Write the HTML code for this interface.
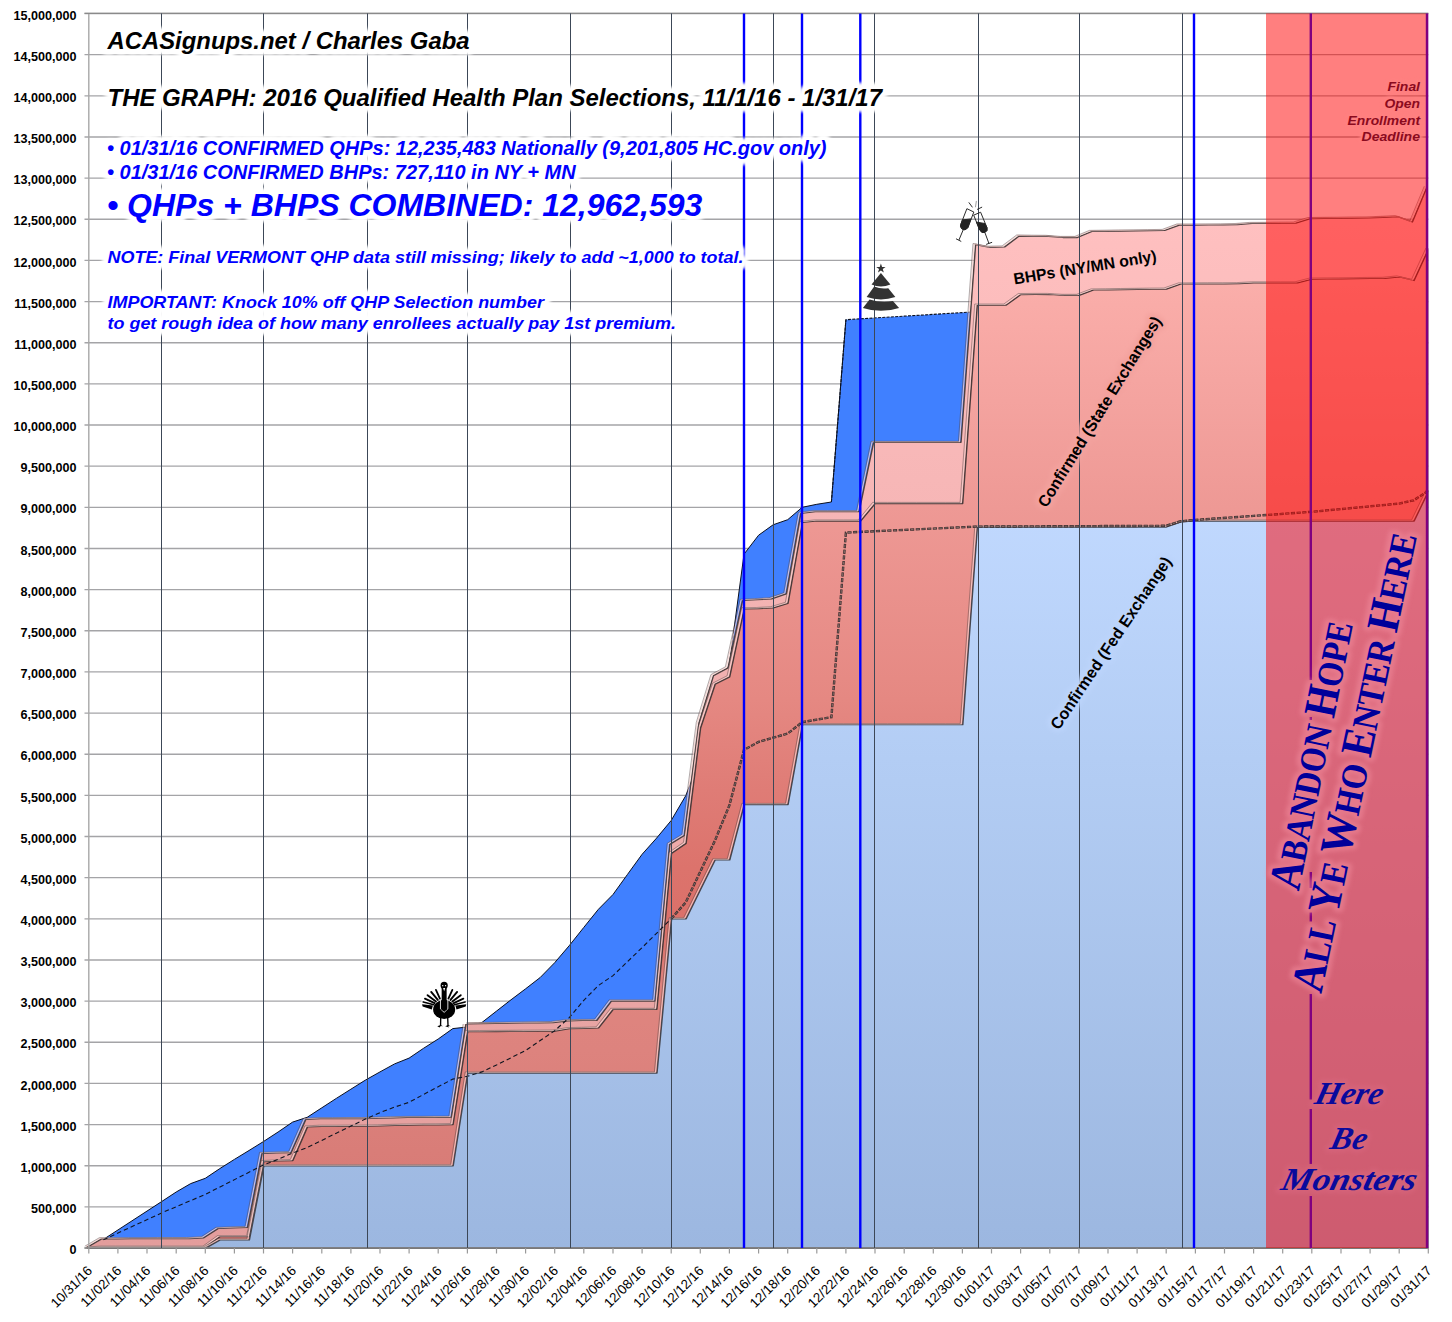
<!DOCTYPE html>
<html lang="en"><head><meta charset="utf-8"><title>THE GRAPH: 2016 Qualified Health Plan Selections</title>
<style>html,body{margin:0;padding:0;background:#fff}svg{display:block}text{font-family:"Liberation Sans",sans-serif}</style></head><body>
<svg width="1452" height="1322" viewBox="0 0 1452 1322">
<defs>
<linearGradient id="gFed" gradientUnits="userSpaceOnUse" x1="0" y1="495" x2="0" y2="1248"><stop offset="0" stop-color="#c1d9ff"/><stop offset="0.35" stop-color="#b3cdf4"/><stop offset="1" stop-color="#9cb7e0"/></linearGradient>
<linearGradient id="gState" gradientUnits="userSpaceOnUse" x1="0" y1="241" x2="0" y2="1248"><stop offset="0.0000" stop-color="#fcb2ae"/><stop offset="0.0854" stop-color="#f8aaa6"/><stop offset="0.2642" stop-color="#ee9995"/><stop offset="0.4558" stop-color="#e58882"/><stop offset="0.5452" stop-color="#df7c76"/><stop offset="0.6226" stop-color="#dc736c"/><stop offset="0.6842" stop-color="#db7069"/><stop offset="0.7438" stop-color="#df857f"/><stop offset="0.8034" stop-color="#dd837e"/><stop offset="0.9047" stop-color="#d97d78"/><stop offset="1.0000" stop-color="#d57772"/></linearGradient>
<linearGradient id="gBhp" gradientUnits="userSpaceOnUse" x1="0" y1="181" x2="0" y2="1248"><stop offset="0" stop-color="#ffc2c2"/><stop offset="0.06" stop-color="#febfbf"/><stop offset="0.28" stop-color="#f7b7b7"/><stop offset="0.88" stop-color="#e6a1a0"/><stop offset="1" stop-color="#e39d9c"/></linearGradient>
<filter id="glowW" x="-5%" y="-40%" width="110%" height="180%"><feGaussianBlur stdDeviation="1.6"/></filter>
<filter id="glowS" x="-10%" y="-60%" width="120%" height="220%"><feGaussianBlur stdDeviation="2.2"/></filter>
<clipPath id="plot"><rect x="80" y="0" width="1348.3" height="1249"/></clipPath>
</defs>
<rect width="1452" height="1322" fill="#fff"/>
<g stroke="#a4a4a7" stroke-width="1.35">
<line x1="84.5" y1="1248.00" x2="1428.3" y2="1248.00"/>
<line x1="84.5" y1="1206.85" x2="1428.3" y2="1206.85"/>
<line x1="84.5" y1="1165.70" x2="1428.3" y2="1165.70"/>
<line x1="84.5" y1="1124.55" x2="1428.3" y2="1124.55"/>
<line x1="84.5" y1="1083.40" x2="1428.3" y2="1083.40"/>
<line x1="84.5" y1="1042.25" x2="1428.3" y2="1042.25"/>
<line x1="84.5" y1="1001.10" x2="1428.3" y2="1001.10"/>
<line x1="84.5" y1="959.95" x2="1428.3" y2="959.95"/>
<line x1="84.5" y1="918.80" x2="1428.3" y2="918.80"/>
<line x1="84.5" y1="877.65" x2="1428.3" y2="877.65"/>
<line x1="84.5" y1="836.50" x2="1428.3" y2="836.50"/>
<line x1="84.5" y1="795.35" x2="1428.3" y2="795.35"/>
<line x1="84.5" y1="754.20" x2="1428.3" y2="754.20"/>
<line x1="84.5" y1="713.05" x2="1428.3" y2="713.05"/>
<line x1="84.5" y1="671.90" x2="1428.3" y2="671.90"/>
<line x1="84.5" y1="630.75" x2="1428.3" y2="630.75"/>
<line x1="84.5" y1="589.60" x2="1428.3" y2="589.60"/>
<line x1="84.5" y1="548.45" x2="1428.3" y2="548.45"/>
<line x1="84.5" y1="507.30" x2="1428.3" y2="507.30"/>
<line x1="84.5" y1="466.15" x2="1428.3" y2="466.15"/>
<line x1="84.5" y1="425.00" x2="1428.3" y2="425.00"/>
<line x1="84.5" y1="383.85" x2="1428.3" y2="383.85"/>
<line x1="84.5" y1="342.70" x2="1428.3" y2="342.70"/>
<line x1="84.5" y1="301.55" x2="1428.3" y2="301.55"/>
<line x1="84.5" y1="260.40" x2="1428.3" y2="260.40"/>
<line x1="84.5" y1="219.25" x2="1428.3" y2="219.25"/>
<line x1="84.5" y1="178.10" x2="1428.3" y2="178.10"/>
<line x1="84.5" y1="136.95" x2="1428.3" y2="136.95"/>
<line x1="84.5" y1="95.80" x2="1428.3" y2="95.80"/>
<line x1="84.5" y1="54.65" x2="1428.3" y2="54.65"/>
<line x1="84.5" y1="13.50" x2="1428.3" y2="13.50"/>
</g>
<g font-size="12.6" font-weight="bold" text-anchor="end" fill="#000">
<text x="76.5" y="1254.1">0</text>
<text x="76.5" y="1212.9">500,000</text>
<text x="76.5" y="1171.8">1,000,000</text>
<text x="76.5" y="1130.6">1,500,000</text>
<text x="76.5" y="1089.5">2,000,000</text>
<text x="76.5" y="1048.3">2,500,000</text>
<text x="76.5" y="1007.2">3,000,000</text>
<text x="76.5" y="966.1">3,500,000</text>
<text x="76.5" y="924.9">4,000,000</text>
<text x="76.5" y="883.8">4,500,000</text>
<text x="76.5" y="842.6">5,000,000</text>
<text x="76.5" y="801.5">5,500,000</text>
<text x="76.5" y="760.3">6,000,000</text>
<text x="76.5" y="719.2">6,500,000</text>
<text x="76.5" y="678.0">7,000,000</text>
<text x="76.5" y="636.9">7,500,000</text>
<text x="76.5" y="595.7">8,000,000</text>
<text x="76.5" y="554.6">8,500,000</text>
<text x="76.5" y="513.4">9,000,000</text>
<text x="76.5" y="472.2">9,500,000</text>
<text x="76.5" y="431.1">10,000,000</text>
<text x="76.5" y="390.0">10,500,000</text>
<text x="76.5" y="348.8">11,000,000</text>
<text x="76.5" y="307.7">11,500,000</text>
<text x="76.5" y="266.5">12,000,000</text>
<text x="76.5" y="225.3">12,500,000</text>
<text x="76.5" y="184.2">13,000,000</text>
<text x="76.5" y="143.1">13,500,000</text>
<text x="76.5" y="101.9">14,000,000</text>
<text x="76.5" y="60.8">14,500,000</text>
<text x="76.5" y="19.6">15,000,000</text>
</g>
<g clip-path="url(#plot)">
<polygon points="88.8,1248.0 103.4,1239.4 161.6,1201.6 176.2,1192.0 190.7,1183.6 205.3,1178.3 219.8,1168.6 234.4,1159.4 249.0,1150.5 263.5,1141.5 278.1,1132.0 292.6,1122.1 307.2,1117.3 321.8,1107.8 336.3,1098.4 350.9,1089.2 365.4,1080.1 380.0,1071.9 394.6,1063.9 409.1,1058.1 423.7,1048.2 438.2,1039.0 452.8,1028.6 467.4,1027.0 481.9,1022.5 496.5,1011.1 511.0,999.8 525.6,988.8 540.2,977.5 554.7,962.7 569.3,945.6 583.8,927.4 598.4,909.3 613.0,894.5 627.5,874.4 642.1,854.3 656.6,838.1 671.2,820.5 685.8,795.6 700.3,758.3 714.9,704.8 729.4,663.7 744.0,554.2 758.6,535.2 773.1,524.8 787.7,519.7 802.2,507.3 816.8,504.3 831.4,502.0 845.9,319.7 977.0,311.7 977.0,1248.0 88.8,1248.0" fill="#4080ff"/>
<polyline points="88.8,1248.0 103.4,1239.4 161.6,1201.6 176.2,1192.0 190.7,1183.6 205.3,1178.3 219.8,1168.6 234.4,1159.4 249.0,1150.5 263.5,1141.5 278.1,1132.0 292.6,1122.1 307.2,1117.3 321.8,1107.8 336.3,1098.4 350.9,1089.2 365.4,1080.1 380.0,1071.9 394.6,1063.9 409.1,1058.1 423.7,1048.2 438.2,1039.0 452.8,1028.6 467.4,1027.0 481.9,1022.5 496.5,1011.1 511.0,999.8 525.6,988.8 540.2,977.5 554.7,962.7 569.3,945.6 583.8,927.4 598.4,909.3 613.0,894.5 627.5,874.4 642.1,854.3 656.6,838.1 671.2,820.5 685.8,795.6 700.3,758.3 714.9,704.8 729.4,663.7 744.0,554.2 758.6,535.2 773.1,524.8 787.7,519.7 802.2,507.3 816.8,504.3 831.4,502.0 845.9,319.7" fill="none" stroke="#0a1020" stroke-width="1.0"/>
<polyline points="831.4,502.0 845.9,319.7 977.0,311.7" fill="none" stroke="#0a1020" stroke-width="1.1" stroke-dasharray="3 1.3"/>
<polygon points="87.4,1247.2 102.0,1238.7 116.5,1238.7 131.1,1238.6 145.6,1238.6 160.2,1238.5 174.8,1238.5 189.3,1238.5 203.9,1237.7 218.4,1228.4 233.0,1227.8 247.6,1227.4 262.1,1153.4 276.7,1152.9 291.2,1152.5 305.8,1119.4 320.4,1118.6 334.9,1118.6 349.5,1118.5 364.0,1118.5 378.6,1118.1 393.2,1117.7 407.7,1117.4 422.3,1117.3 436.8,1117.2 451.4,1117.1 466.0,1023.7 480.5,1023.5 495.1,1023.3 509.6,1023.1 524.2,1022.9 538.8,1022.7 553.3,1022.5 567.9,1020.7 582.4,1020.4 597.0,1020.2 611.6,1000.9 626.1,1000.9 640.7,1000.9 655.2,1000.9 669.8,844.3 684.4,835.4 698.9,723.3 713.5,675.6 728.0,667.8 742.6,600.3 757.2,599.6 771.7,598.7 786.3,593.8 800.8,513.4 815.4,511.6 830.0,511.6 844.5,511.6 859.1,511.6 873.6,442.3 888.2,442.3 902.8,442.3 917.3,442.3 931.9,442.3 946.4,442.3 961.0,442.3 975.6,244.5 990.1,247.2 1004.7,246.9 1019.2,236.0 1033.8,236.2 1048.4,236.3 1062.9,237.4 1077.5,237.4 1092.0,231.4 1106.6,231.2 1121.2,231.0 1135.7,230.8 1150.3,230.6 1164.8,230.4 1179.4,225.0 1194.0,225.0 1208.5,224.9 1223.1,224.8 1237.6,224.5 1252.2,223.4 1266.8,223.3 1281.3,223.1 1295.9,223.0 1310.4,218.5 1325.0,218.3 1339.6,218.2 1354.1,218.0 1368.7,217.9 1383.2,217.3 1397.8,216.6 1412.4,221.9 1426.9,187.2 1426.9,1248.0 87.4,1248.0" fill="url(#gBhp)" stroke="#4f4040" stroke-width="1.45" stroke-linejoin="round"/>
<polygon points="89.1,1248.0 103.7,1247.0 118.2,1247.0 132.8,1247.0 147.3,1247.0 161.9,1247.0 176.5,1247.0 191.0,1247.0 205.6,1247.0 220.1,1236.6 234.7,1236.6 249.3,1236.6 263.8,1161.6 278.4,1160.9 292.9,1160.5 307.5,1126.9 322.1,1126.2 336.6,1126.2 351.2,1126.1 365.7,1126.1 380.3,1125.7 394.9,1125.3 409.4,1125.0 424.0,1124.8 438.5,1124.7 453.1,1124.5 467.7,1031.6 482.2,1031.5 496.8,1031.4 511.3,1031.3 525.9,1031.2 540.5,1031.1 555.0,1031.0 569.6,1028.6 584.1,1028.3 598.7,1027.9 613.3,1009.3 627.8,1009.3 642.4,1009.3 656.9,1009.3 671.5,853.4 686.1,843.4 700.6,727.9 715.2,684.2 729.7,676.8 744.3,608.7 758.9,608.5 773.4,607.7 788.0,603.3 802.5,522.4 817.1,520.9 831.7,520.9 846.2,520.9 860.8,520.9 875.3,503.4 889.9,503.4 904.5,503.4 919.0,503.4 933.6,503.4 948.1,503.4 962.7,503.4 977.3,305.0 991.8,305.0 1006.4,305.0 1020.9,294.5 1035.5,294.4 1050.1,294.4 1064.6,295.3 1079.2,295.3 1093.7,289.9 1108.3,289.7 1122.9,289.5 1137.4,289.3 1152.0,289.1 1166.5,289.0 1181.1,283.9 1195.7,283.8 1210.2,283.7 1224.8,283.7 1239.3,283.6 1253.9,282.8 1268.5,282.8 1283.0,282.8 1297.6,282.8 1312.1,279.1 1326.7,278.9 1341.3,278.8 1355.8,278.6 1370.4,278.4 1384.9,278.3 1399.5,276.9 1414.1,280.4 1428.6,248.9 1428.6,1248.0 89.1,1248.0" fill="url(#gState)" stroke="#4b3a3a" stroke-width="1.45" stroke-linejoin="round"/>
<polygon points="89.2,1248.0 103.8,1248.0 118.3,1248.0 132.9,1248.0 147.4,1248.0 162.0,1248.0 176.6,1248.0 191.1,1248.0 205.7,1248.0 220.2,1239.8 234.8,1239.8 249.4,1239.8 263.9,1165.7 278.5,1165.7 293.0,1165.7 307.6,1165.7 322.2,1165.7 336.7,1165.7 351.3,1165.7 365.8,1165.7 380.4,1165.7 395.0,1165.7 409.5,1165.7 424.1,1165.7 438.6,1165.7 453.2,1165.7 467.8,1072.9 482.3,1072.9 496.9,1072.9 511.4,1072.9 526.0,1072.9 540.6,1072.9 555.1,1072.9 569.7,1072.9 584.2,1072.9 598.8,1072.9 613.4,1072.9 627.9,1072.9 642.5,1072.9 657.0,1072.9 671.6,918.8 686.2,918.8 700.7,889.3 715.3,859.8 729.8,859.8 744.4,804.4 759.0,804.4 773.5,804.4 788.1,804.4 802.6,724.6 817.2,724.6 831.8,724.6 846.3,724.6 860.9,724.6 875.4,724.6 890.0,724.6 904.6,724.6 919.1,724.6 933.7,724.6 948.2,724.6 962.8,724.6 977.4,526.9 991.9,526.9 1006.5,526.9 1021.0,526.9 1035.6,526.9 1050.2,526.9 1064.7,526.9 1079.3,526.9 1093.8,526.9 1108.4,526.9 1123.0,526.9 1137.5,526.9 1152.1,526.9 1166.6,526.9 1181.2,521.9 1195.8,520.9 1210.3,520.9 1224.9,520.9 1239.4,520.9 1254.0,520.9 1268.6,520.9 1283.1,520.9 1297.7,520.9 1312.2,520.9 1326.8,520.9 1341.4,520.9 1355.9,520.9 1370.5,520.9 1385.0,520.9 1399.6,520.9 1414.2,520.9 1428.7,490.8 1428.7,1248.0 89.2,1248.0" fill="url(#gFed)" stroke="#45454d" stroke-width="1.45" stroke-linejoin="round"/>
<polyline points="87.4,1247.2 102.0,1238.7 116.5,1238.7 131.1,1238.6 145.6,1238.6 160.2,1238.5 174.8,1238.5 189.3,1238.5 203.9,1237.7 218.4,1228.4 233.0,1227.8 247.6,1227.4 262.1,1153.4 276.7,1152.9 291.2,1152.5 305.8,1119.4 320.4,1118.6 334.9,1118.6 349.5,1118.5 364.0,1118.5 378.6,1118.1 393.2,1117.7 407.7,1117.4 422.3,1117.3 436.8,1117.2 451.4,1117.1 466.0,1023.7 480.5,1023.5 495.1,1023.3 509.6,1023.1 524.2,1022.9 538.8,1022.7 553.3,1022.5 567.9,1020.7 582.4,1020.4 597.0,1020.2 611.6,1000.9 626.1,1000.9 640.7,1000.9 655.2,1000.9 669.8,844.3 684.4,835.4 698.9,723.3 713.5,675.6 728.0,667.8 742.6,600.3 757.2,599.6 771.7,598.7 786.3,593.8 800.8,513.4 815.4,511.6 830.0,511.6 844.5,511.6 859.1,511.6 873.6,442.3 888.2,442.3 902.8,442.3 917.3,442.3 931.9,442.3 946.4,442.3 961.0,442.3 975.6,244.5 990.1,247.2 1004.7,246.9 1019.2,236.0 1033.8,236.2 1048.4,236.3 1062.9,237.4 1077.5,237.4 1092.0,231.4 1106.6,231.2 1121.2,231.0 1135.7,230.8 1150.3,230.6 1164.8,230.4 1179.4,225.0 1194.0,225.0 1208.5,224.9 1223.1,224.8 1237.6,224.5 1252.2,223.4 1266.8,223.3 1281.3,223.1 1295.9,223.0 1310.4,218.5 1325.0,218.3 1339.6,218.2 1354.1,218.0 1368.7,217.9 1383.2,217.3 1397.8,216.6 1412.4,221.9 1426.9,187.2" fill="none" stroke="#f6cfcc" stroke-opacity="0.8" stroke-width="1.1" transform="translate(-1.5,-0.6)"/>
<polyline points="87.4,1247.2 102.0,1238.7 116.5,1238.7 131.1,1238.6 145.6,1238.6 160.2,1238.5 174.8,1238.5 189.3,1238.5 203.9,1237.7 218.4,1228.4 233.0,1227.8 247.6,1227.4 262.1,1153.4 276.7,1152.9 291.2,1152.5 305.8,1119.4 320.4,1118.6 334.9,1118.6 349.5,1118.5 364.0,1118.5 378.6,1118.1 393.2,1117.7 407.7,1117.4 422.3,1117.3 436.8,1117.2 451.4,1117.1 466.0,1023.7 480.5,1023.5 495.1,1023.3 509.6,1023.1 524.2,1022.9 538.8,1022.7 553.3,1022.5 567.9,1020.7 582.4,1020.4 597.0,1020.2 611.6,1000.9 626.1,1000.9 640.7,1000.9 655.2,1000.9 669.8,844.3 684.4,835.4 698.9,723.3 713.5,675.6 728.0,667.8 742.6,600.3 757.2,599.6 771.7,598.7 786.3,593.8 800.8,513.4 815.4,511.6 830.0,511.6 844.5,511.6 859.1,511.6 873.6,442.3 888.2,442.3 902.8,442.3 917.3,442.3 931.9,442.3 946.4,442.3 961.0,442.3 975.6,244.5 990.1,247.2 1004.7,246.9 1019.2,236.0 1033.8,236.2 1048.4,236.3 1062.9,237.4 1077.5,237.4 1092.0,231.4 1106.6,231.2 1121.2,231.0 1135.7,230.8 1150.3,230.6 1164.8,230.4 1179.4,225.0 1194.0,225.0 1208.5,224.9 1223.1,224.8 1237.6,224.5 1252.2,223.4 1266.8,223.3 1281.3,223.1 1295.9,223.0 1310.4,218.5 1325.0,218.3 1339.6,218.2 1354.1,218.0 1368.7,217.9 1383.2,217.3 1397.8,216.6 1412.4,221.9 1426.9,187.2" fill="none" stroke="#5a4a4a" stroke-opacity="0.6" stroke-width="0.8" transform="translate(-2.6,-1.0)"/>
<polyline points="89.1,1248.0 103.7,1247.0 118.2,1247.0 132.8,1247.0 147.3,1247.0 161.9,1247.0 176.5,1247.0 191.0,1247.0 205.6,1247.0 220.1,1236.6 234.7,1236.6 249.3,1236.6 263.8,1161.6 278.4,1160.9 292.9,1160.5 307.5,1126.9 322.1,1126.2 336.6,1126.2 351.2,1126.1 365.7,1126.1 380.3,1125.7 394.9,1125.3 409.4,1125.0 424.0,1124.8 438.5,1124.7 453.1,1124.5 467.7,1031.6 482.2,1031.5 496.8,1031.4 511.3,1031.3 525.9,1031.2 540.5,1031.1 555.0,1031.0 569.6,1028.6 584.1,1028.3 598.7,1027.9 613.3,1009.3 627.8,1009.3 642.4,1009.3 656.9,1009.3 671.5,853.4 686.1,843.4 700.6,727.9 715.2,684.2 729.7,676.8 744.3,608.7 758.9,608.5 773.4,607.7 788.0,603.3 802.5,522.4 817.1,520.9 831.7,520.9 846.2,520.9 860.8,520.9 875.3,503.4 889.9,503.4 904.5,503.4 919.0,503.4 933.6,503.4 948.1,503.4 962.7,503.4 977.3,305.0 991.8,305.0 1006.4,305.0 1020.9,294.5 1035.5,294.4 1050.1,294.4 1064.6,295.3 1079.2,295.3 1093.7,289.9 1108.3,289.7 1122.9,289.5 1137.4,289.3 1152.0,289.1 1166.5,289.0 1181.1,283.9 1195.7,283.8 1210.2,283.7 1224.8,283.7 1239.3,283.6 1253.9,282.8 1268.5,282.8 1283.0,282.8 1297.6,282.8 1312.1,279.1 1326.7,278.9 1341.3,278.8 1355.8,278.6 1370.4,278.4 1384.9,278.3 1399.5,276.9 1414.1,280.4 1428.6,248.9" fill="none" stroke="#f6cfcc" stroke-opacity="0.8" stroke-width="1.1" transform="translate(-1.5,-0.6)"/>
<polyline points="89.1,1248.0 103.7,1247.0 118.2,1247.0 132.8,1247.0 147.3,1247.0 161.9,1247.0 176.5,1247.0 191.0,1247.0 205.6,1247.0 220.1,1236.6 234.7,1236.6 249.3,1236.6 263.8,1161.6 278.4,1160.9 292.9,1160.5 307.5,1126.9 322.1,1126.2 336.6,1126.2 351.2,1126.1 365.7,1126.1 380.3,1125.7 394.9,1125.3 409.4,1125.0 424.0,1124.8 438.5,1124.7 453.1,1124.5 467.7,1031.6 482.2,1031.5 496.8,1031.4 511.3,1031.3 525.9,1031.2 540.5,1031.1 555.0,1031.0 569.6,1028.6 584.1,1028.3 598.7,1027.9 613.3,1009.3 627.8,1009.3 642.4,1009.3 656.9,1009.3 671.5,853.4 686.1,843.4 700.6,727.9 715.2,684.2 729.7,676.8 744.3,608.7 758.9,608.5 773.4,607.7 788.0,603.3 802.5,522.4 817.1,520.9 831.7,520.9 846.2,520.9 860.8,520.9 875.3,503.4 889.9,503.4 904.5,503.4 919.0,503.4 933.6,503.4 948.1,503.4 962.7,503.4 977.3,305.0 991.8,305.0 1006.4,305.0 1020.9,294.5 1035.5,294.4 1050.1,294.4 1064.6,295.3 1079.2,295.3 1093.7,289.9 1108.3,289.7 1122.9,289.5 1137.4,289.3 1152.0,289.1 1166.5,289.0 1181.1,283.9 1195.7,283.8 1210.2,283.7 1224.8,283.7 1239.3,283.6 1253.9,282.8 1268.5,282.8 1283.0,282.8 1297.6,282.8 1312.1,279.1 1326.7,278.9 1341.3,278.8 1355.8,278.6 1370.4,278.4 1384.9,278.3 1399.5,276.9 1414.1,280.4 1428.6,248.9" fill="none" stroke="#5a4a4a" stroke-opacity="0.6" stroke-width="0.8" transform="translate(-2.6,-1.0)"/>
<polyline points="89.2,1248.0 103.8,1248.0 118.3,1248.0 132.9,1248.0 147.4,1248.0 162.0,1248.0 176.6,1248.0 191.1,1248.0 205.7,1248.0 220.2,1239.8 234.8,1239.8 249.4,1239.8 263.9,1165.7 278.5,1165.7 293.0,1165.7 307.6,1165.7 322.2,1165.7 336.7,1165.7 351.3,1165.7 365.8,1165.7 380.4,1165.7 395.0,1165.7 409.5,1165.7 424.1,1165.7 438.6,1165.7 453.2,1165.7 467.8,1072.9 482.3,1072.9 496.9,1072.9 511.4,1072.9 526.0,1072.9 540.6,1072.9 555.1,1072.9 569.7,1072.9 584.2,1072.9 598.8,1072.9 613.4,1072.9 627.9,1072.9 642.5,1072.9 657.0,1072.9 671.6,918.8 686.2,918.8 700.7,889.3 715.3,859.8 729.8,859.8 744.4,804.4 759.0,804.4 773.5,804.4 788.1,804.4 802.6,724.6 817.2,724.6 831.8,724.6 846.3,724.6 860.9,724.6 875.4,724.6 890.0,724.6 904.6,724.6 919.1,724.6 933.7,724.6 948.2,724.6 962.8,724.6 977.4,526.9 991.9,526.9 1006.5,526.9 1021.0,526.9 1035.6,526.9 1050.2,526.9 1064.7,526.9 1079.3,526.9 1093.8,526.9 1108.4,526.9 1123.0,526.9 1137.5,526.9 1152.1,526.9 1166.6,526.9 1181.2,521.9 1195.8,520.9 1210.3,520.9 1224.9,520.9 1239.4,520.9 1254.0,520.9 1268.6,520.9 1283.1,520.9 1297.7,520.9 1312.2,520.9 1326.8,520.9 1341.4,520.9 1355.9,520.9 1370.5,520.9 1385.0,520.9 1399.6,520.9 1414.2,520.9 1428.7,490.8" fill="none" stroke="#f6cfcc" stroke-opacity="0.8" stroke-width="1.1" transform="translate(-1.5,-0.6)"/>
<polyline points="89.2,1248.0 103.8,1248.0 118.3,1248.0 132.9,1248.0 147.4,1248.0 162.0,1248.0 176.6,1248.0 191.1,1248.0 205.7,1248.0 220.2,1239.8 234.8,1239.8 249.4,1239.8 263.9,1165.7 278.5,1165.7 293.0,1165.7 307.6,1165.7 322.2,1165.7 336.7,1165.7 351.3,1165.7 365.8,1165.7 380.4,1165.7 395.0,1165.7 409.5,1165.7 424.1,1165.7 438.6,1165.7 453.2,1165.7 467.8,1072.9 482.3,1072.9 496.9,1072.9 511.4,1072.9 526.0,1072.9 540.6,1072.9 555.1,1072.9 569.7,1072.9 584.2,1072.9 598.8,1072.9 613.4,1072.9 627.9,1072.9 642.5,1072.9 657.0,1072.9 671.6,918.8 686.2,918.8 700.7,889.3 715.3,859.8 729.8,859.8 744.4,804.4 759.0,804.4 773.5,804.4 788.1,804.4 802.6,724.6 817.2,724.6 831.8,724.6 846.3,724.6 860.9,724.6 875.4,724.6 890.0,724.6 904.6,724.6 919.1,724.6 933.7,724.6 948.2,724.6 962.8,724.6 977.4,526.9 991.9,526.9 1006.5,526.9 1021.0,526.9 1035.6,526.9 1050.2,526.9 1064.7,526.9 1079.3,526.9 1093.8,526.9 1108.4,526.9 1123.0,526.9 1137.5,526.9 1152.1,526.9 1166.6,526.9 1181.2,521.9 1195.8,520.9 1210.3,520.9 1224.9,520.9 1239.4,520.9 1254.0,520.9 1268.6,520.9 1283.1,520.9 1297.7,520.9 1312.2,520.9 1326.8,520.9 1341.4,520.9 1355.9,520.9 1370.5,520.9 1385.0,520.9 1399.6,520.9 1414.2,520.9 1428.7,490.8" fill="none" stroke="#5a4a4a" stroke-opacity="0.6" stroke-width="0.8" transform="translate(-2.6,-1.0)"/>
<polyline points="103.4,1239.8 161.6,1212.9 205.3,1194.4 263.5,1164.9 278.1,1159.4 292.6,1153.0 307.2,1147.6 321.8,1140.4 336.3,1133.2 350.9,1126.1 365.4,1119.0 380.0,1112.6 394.6,1107.1 409.1,1102.3 423.7,1094.4 438.2,1086.7 452.8,1079.1 467.4,1076.3 481.9,1071.9 496.5,1065.0 525.6,1050.5 554.7,1030.7 569.3,1017.6 583.8,1000.3 598.4,985.5 613.0,975.6 642.1,947.6 671.2,918.8" fill="none" stroke="#10151f" stroke-width="1.1" stroke-dasharray="4.5 3"/>
<polyline points="671.2,918.8 685.8,902.3 700.3,871.6 714.9,840.7 729.4,805.3 744.0,749.9 758.6,741.9 773.1,737.7 787.7,733.6 802.2,722.1 816.8,719.6 831.4,717.2 845.9,532.6 875.0,531.2 977.0,526.6 1166.2,525.8 1180.8,521.3 1195.4,519.9 1253.6,515.9 1311.8,511.8 1355.5,507.7 1399.2,503.6 1413.8,500.3 1428.3,490.8" fill="none" stroke="#3d3030" stroke-width="2.4" stroke-dasharray="4.2 1.5"/>
<polyline points="671.2,918.8 685.8,902.3 700.3,871.6 714.9,840.7 729.4,805.3 744.0,749.9 758.6,741.9 773.1,737.7 787.7,733.6 802.2,722.1 816.8,719.6 831.4,717.2 845.9,532.6 875.0,531.2 977.0,526.6 1166.2,525.8 1180.8,521.3 1195.4,519.9 1253.6,515.9 1311.8,511.8 1355.5,507.7 1399.2,503.6 1413.8,500.3 1428.3,490.8" fill="none" stroke="#c79c97" stroke-opacity="0.75" stroke-width="0.7" stroke-dasharray="2.8 2.9" stroke-dashoffset="-0.7"/>
</g>
<line x1="88.8" y1="13.4" x2="88.8" y2="1248.5" stroke="#a8a8a8" stroke-width="1.4"/>
<line x1="84.5" y1="1248.0" x2="1428.3" y2="1248.0" stroke="#8a8a8a" stroke-width="1.3"/>
<line x1="84.5" y1="13.4" x2="1428.3" y2="13.4" stroke="#8a8a8a" stroke-width="1.2"/>
<g stroke="#9a9a9a" stroke-width="1.2">
<line x1="88.8" y1="1248.0" x2="88.8" y2="1253.5"/>
<line x1="117.9" y1="1248.0" x2="117.9" y2="1253.5"/>
<line x1="147.0" y1="1248.0" x2="147.0" y2="1253.5"/>
<line x1="176.2" y1="1248.0" x2="176.2" y2="1253.5"/>
<line x1="205.3" y1="1248.0" x2="205.3" y2="1253.5"/>
<line x1="234.4" y1="1248.0" x2="234.4" y2="1253.5"/>
<line x1="263.5" y1="1248.0" x2="263.5" y2="1253.5"/>
<line x1="292.6" y1="1248.0" x2="292.6" y2="1253.5"/>
<line x1="321.8" y1="1248.0" x2="321.8" y2="1253.5"/>
<line x1="350.9" y1="1248.0" x2="350.9" y2="1253.5"/>
<line x1="380.0" y1="1248.0" x2="380.0" y2="1253.5"/>
<line x1="409.1" y1="1248.0" x2="409.1" y2="1253.5"/>
<line x1="438.2" y1="1248.0" x2="438.2" y2="1253.5"/>
<line x1="467.4" y1="1248.0" x2="467.4" y2="1253.5"/>
<line x1="496.5" y1="1248.0" x2="496.5" y2="1253.5"/>
<line x1="525.6" y1="1248.0" x2="525.6" y2="1253.5"/>
<line x1="554.7" y1="1248.0" x2="554.7" y2="1253.5"/>
<line x1="583.8" y1="1248.0" x2="583.8" y2="1253.5"/>
<line x1="613.0" y1="1248.0" x2="613.0" y2="1253.5"/>
<line x1="642.1" y1="1248.0" x2="642.1" y2="1253.5"/>
<line x1="671.2" y1="1248.0" x2="671.2" y2="1253.5"/>
<line x1="700.3" y1="1248.0" x2="700.3" y2="1253.5"/>
<line x1="729.4" y1="1248.0" x2="729.4" y2="1253.5"/>
<line x1="758.6" y1="1248.0" x2="758.6" y2="1253.5"/>
<line x1="787.7" y1="1248.0" x2="787.7" y2="1253.5"/>
<line x1="816.8" y1="1248.0" x2="816.8" y2="1253.5"/>
<line x1="845.9" y1="1248.0" x2="845.9" y2="1253.5"/>
<line x1="875.0" y1="1248.0" x2="875.0" y2="1253.5"/>
<line x1="904.2" y1="1248.0" x2="904.2" y2="1253.5"/>
<line x1="933.3" y1="1248.0" x2="933.3" y2="1253.5"/>
<line x1="962.4" y1="1248.0" x2="962.4" y2="1253.5"/>
<line x1="991.5" y1="1248.0" x2="991.5" y2="1253.5"/>
<line x1="1020.6" y1="1248.0" x2="1020.6" y2="1253.5"/>
<line x1="1049.8" y1="1248.0" x2="1049.8" y2="1253.5"/>
<line x1="1078.9" y1="1248.0" x2="1078.9" y2="1253.5"/>
<line x1="1108.0" y1="1248.0" x2="1108.0" y2="1253.5"/>
<line x1="1137.1" y1="1248.0" x2="1137.1" y2="1253.5"/>
<line x1="1166.2" y1="1248.0" x2="1166.2" y2="1253.5"/>
<line x1="1195.4" y1="1248.0" x2="1195.4" y2="1253.5"/>
<line x1="1224.5" y1="1248.0" x2="1224.5" y2="1253.5"/>
<line x1="1253.6" y1="1248.0" x2="1253.6" y2="1253.5"/>
<line x1="1282.7" y1="1248.0" x2="1282.7" y2="1253.5"/>
<line x1="1311.8" y1="1248.0" x2="1311.8" y2="1253.5"/>
<line x1="1341.0" y1="1248.0" x2="1341.0" y2="1253.5"/>
<line x1="1370.1" y1="1248.0" x2="1370.1" y2="1253.5"/>
<line x1="1399.2" y1="1248.0" x2="1399.2" y2="1253.5"/>
<line x1="1428.3" y1="1248.0" x2="1428.3" y2="1253.5"/>
</g>
<g stroke="#3c4757" stroke-width="1">
<line x1="161.5" y1="13.4" x2="161.5" y2="1248.0"/>
<line x1="263.5" y1="13.4" x2="263.5" y2="1248.0"/>
<line x1="367.5" y1="13.4" x2="367.5" y2="1248.0"/>
<line x1="467.5" y1="13.4" x2="467.5" y2="1248.0"/>
<line x1="570.5" y1="13.4" x2="570.5" y2="1248.0"/>
<line x1="671.5" y1="13.4" x2="671.5" y2="1248.0"/>
<line x1="773.5" y1="13.4" x2="773.5" y2="1248.0"/>
<line x1="874.5" y1="13.4" x2="874.5" y2="1248.0"/>
<line x1="978.5" y1="13.4" x2="978.5" y2="1248.0"/>
<line x1="1079.5" y1="13.4" x2="1079.5" y2="1248.0"/>
<line x1="1182.5" y1="13.4" x2="1182.5" y2="1248.0"/>
</g>
<g stroke="#0000ff" stroke-width="2.4">
<line x1="744.0" y1="13.4" x2="744.0" y2="1248.0"/>
<line x1="802.0" y1="13.4" x2="802.0" y2="1248.0"/>
<line x1="860.3" y1="13.4" x2="860.3" y2="1248.0"/>
<line x1="1194.0" y1="13.4" x2="1194.0" y2="1248.0"/>
<line x1="1427.0" y1="13.4" x2="1427.0" y2="1248.0"/>
<line x1="1310.8" y1="13.4" x2="1310.8" y2="680.0"/>
<line x1="1310.8" y1="717.0" x2="1310.8" y2="720.0"/>
<line x1="1310.8" y1="872.0" x2="1310.8" y2="888.0"/>
<line x1="1310.8" y1="912.5" x2="1310.8" y2="921.5"/>
<line x1="1310.8" y1="994.0" x2="1310.8" y2="1099.5"/>
<line x1="1310.8" y1="1109.0" x2="1310.8" y2="1164.0"/>
<line x1="1310.8" y1="1196.0" x2="1310.8" y2="1248.0"/>
</g>
<rect x="1266" y="13.4" width="162.3" height="1234.6" fill="#ff0000" fill-opacity="0.5"/>
<g font-size="13.4" fill="#000" text-anchor="end">
<text transform="translate(93.1,1271.6) rotate(-45)">10/31/16</text>
<text transform="translate(122.2,1271.6) rotate(-45)">11/02/16</text>
<text transform="translate(151.3,1271.6) rotate(-45)">11/04/16</text>
<text transform="translate(180.5,1271.6) rotate(-45)">11/06/16</text>
<text transform="translate(209.6,1271.6) rotate(-45)">11/08/16</text>
<text transform="translate(238.7,1271.6) rotate(-45)">11/10/16</text>
<text transform="translate(267.8,1271.6) rotate(-45)">11/12/16</text>
<text transform="translate(296.9,1271.6) rotate(-45)">11/14/16</text>
<text transform="translate(326.1,1271.6) rotate(-45)">11/16/16</text>
<text transform="translate(355.2,1271.6) rotate(-45)">11/18/16</text>
<text transform="translate(384.3,1271.6) rotate(-45)">11/20/16</text>
<text transform="translate(413.4,1271.6) rotate(-45)">11/22/16</text>
<text transform="translate(442.5,1271.6) rotate(-45)">11/24/16</text>
<text transform="translate(471.7,1271.6) rotate(-45)">11/26/16</text>
<text transform="translate(500.8,1271.6) rotate(-45)">11/28/16</text>
<text transform="translate(529.9,1271.6) rotate(-45)">11/30/16</text>
<text transform="translate(559.0,1271.6) rotate(-45)">12/02/16</text>
<text transform="translate(588.1,1271.6) rotate(-45)">12/04/16</text>
<text transform="translate(617.3,1271.6) rotate(-45)">12/06/16</text>
<text transform="translate(646.4,1271.6) rotate(-45)">12/08/16</text>
<text transform="translate(675.5,1271.6) rotate(-45)">12/10/16</text>
<text transform="translate(704.6,1271.6) rotate(-45)">12/12/16</text>
<text transform="translate(733.7,1271.6) rotate(-45)">12/14/16</text>
<text transform="translate(762.9,1271.6) rotate(-45)">12/16/16</text>
<text transform="translate(792.0,1271.6) rotate(-45)">12/18/16</text>
<text transform="translate(821.1,1271.6) rotate(-45)">12/20/16</text>
<text transform="translate(850.2,1271.6) rotate(-45)">12/22/16</text>
<text transform="translate(879.3,1271.6) rotate(-45)">12/24/16</text>
<text transform="translate(908.5,1271.6) rotate(-45)">12/26/16</text>
<text transform="translate(937.6,1271.6) rotate(-45)">12/28/16</text>
<text transform="translate(966.7,1271.6) rotate(-45)">12/30/16</text>
<text transform="translate(995.8,1271.6) rotate(-45)">01/01/17</text>
<text transform="translate(1024.9,1271.6) rotate(-45)">01/03/17</text>
<text transform="translate(1054.1,1271.6) rotate(-45)">01/05/17</text>
<text transform="translate(1083.2,1271.6) rotate(-45)">01/07/17</text>
<text transform="translate(1112.3,1271.6) rotate(-45)">01/09/17</text>
<text transform="translate(1141.4,1271.6) rotate(-45)">01/11/17</text>
<text transform="translate(1170.5,1271.6) rotate(-45)">01/13/17</text>
<text transform="translate(1199.7,1271.6) rotate(-45)">01/15/17</text>
<text transform="translate(1228.8,1271.6) rotate(-45)">01/17/17</text>
<text transform="translate(1257.9,1271.6) rotate(-45)">01/19/17</text>
<text transform="translate(1287.0,1271.6) rotate(-45)">01/21/17</text>
<text transform="translate(1316.1,1271.6) rotate(-45)">01/23/17</text>
<text transform="translate(1345.3,1271.6) rotate(-45)">01/25/17</text>
<text transform="translate(1374.4,1271.6) rotate(-45)">01/27/17</text>
<text transform="translate(1403.5,1271.6) rotate(-45)">01/29/17</text>
<text transform="translate(1432.6,1271.6) rotate(-45)">01/31/17</text>
</g>
<rect x="421.5" y="979" width="45" height="45" fill="#fff"/>
<g transform="translate(410,970) scale(0.05295)" fill="#000" stroke="none">
<g stroke="#000" stroke-linecap="round">
<line x1="565" y1="540" x2="490" y2="375" stroke-width="34"/>
<line x1="725" y1="540" x2="800" y2="375" stroke-width="34"/>
<line x1="525" y1="565" x2="400" y2="415" stroke-width="36"/>
<line x1="765" y1="565" x2="890" y2="415" stroke-width="36"/>
<line x1="490" y1="595" x2="332" y2="475" stroke-width="36"/>
<line x1="800" y1="595" x2="958" y2="475" stroke-width="36"/>
<line x1="465" y1="625" x2="282" y2="540" stroke-width="34"/>
<line x1="825" y1="625" x2="1008" y2="540" stroke-width="34"/>
<line x1="450" y1="655" x2="250" y2="603" stroke-width="30"/>
<line x1="840" y1="655" x2="1040" y2="603" stroke-width="30"/>
</g>
<polygon points="228,648 238,690 412,748 432,672"/>
<polygon points="1062,648 1052,690 878,748 858,672"/>
<ellipse cx="645" cy="745" rx="208" ry="182"/>
<path d="M575 560 L575 735 L645 800 L715 735 L715 560" fill="none" stroke="#fff" stroke-width="16"/>
<rect x="598" y="290" width="94" height="470"/>
<polygon points="598,700 645,770 692,700"/>
<ellipse cx="645" cy="292" rx="68" ry="68"/>
<circle cx="618" cy="296" r="13" fill="#fff"/><circle cx="672" cy="296" r="13" fill="#fff"/>
<polygon points="626,338 664,338 645,402" fill="#fff"/>
<g stroke="#000" stroke-width="26" stroke-linecap="round"><line x1="580" y1="900" x2="577" y2="1050"/><line x1="712" y1="900" x2="718" y2="1050"/></g>
<polygon points="515,1062 577,1040 625,1062 577,1058 560,1088"/>
<polygon points="665,1062 718,1040 772,1062 722,1058 735,1088"/>
</g>
<g transform="translate(850,255) scale(0.04919)" fill="#333">
<polygon points="628,175 652,243 723,244 666,287 687,356 628,315 569,356 590,287 533,244 604,243"/>
<path d="M628 368 L438 598 Q628 680 822 598 Z"/>
<path d="M492 642 Q628 700 778 676 L922 855 Q628 950 338 855 Z"/>
<path d="M398 905 Q628 975 872 935 L998 1075 Q628 1195 262 1075 Z"/>
</g>
<g transform="translate(945,195) scale(0.04539)" fill="none" stroke="#222" stroke-width="21" stroke-linecap="round" stroke-linejoin="round">
<path d="M490 305 L635 375 L505 715 Q440 800 365 740 Q325 690 350 640 Z"/>
<path d="M392 548 L572 528 L505 715 Q440 800 365 740 Q325 690 350 640 Z" fill="#222"/>
<path d="M400 770 L310 985 M250 968 L350 1020"/>
<path d="M640 440 L785 380 L925 720 Q945 790 880 825 Q810 845 770 780 Z"/>
<path d="M700 598 L880 628 L925 720 Q945 790 880 825 Q810 845 770 780 Z" fill="#222"/>
<path d="M880 830 L965 1060 M915 1085 L1030 1045"/>
<path d="M530 170 L600 265 M715 315 L810 270"/>
<path d="M690 140 L672 260" stroke="#999"/>
</g>
<text transform="translate(1014.5,284.5) rotate(-9.3)" font-size="16.0" font-weight="bold" fill="#000" textLength="144.5" lengthAdjust="spacingAndGlyphs">BHPs (NY/MN only)</text>
<text transform="translate(1046.5,508.5) rotate(-58.4)" font-size="16.2" font-weight="bold" fill="#f3a29e" stroke="#f3a29e" stroke-width="7" stroke-linejoin="round" filter="url(#glowS)" textLength="220.5" lengthAdjust="spacingAndGlyphs">Confirmed (State Exchanges)</text><text transform="translate(1046.5,508.5) rotate(-58.4)" font-size="16.2" font-weight="bold" fill="#000" textLength="220.5" lengthAdjust="spacingAndGlyphs">Confirmed (State Exchanges)</text>
<text transform="translate(1058.8,730.8) rotate(-56.2)" font-size="16.2" font-weight="bold" fill="#bcd4fb" stroke="#bcd4fb" stroke-width="7" stroke-linejoin="round" filter="url(#glowS)" textLength="204.0" lengthAdjust="spacingAndGlyphs">Confirmed (Fed Exchange)</text><text transform="translate(1058.8,730.8) rotate(-56.2)" font-size="16.2" font-weight="bold" fill="#000" textLength="204.0" lengthAdjust="spacingAndGlyphs">Confirmed (Fed Exchange)</text>
<g font-size="13.2" font-weight="bold" font-style="italic" fill="#ff8080" stroke="#ff8080" stroke-width="5" stroke-linejoin="round" text-anchor="end" filter="url(#glowW)">
<text x="1420" y="90.6" textLength="32.5" lengthAdjust="spacingAndGlyphs">Final</text>
<text x="1420" y="107.6" textLength="35.5" lengthAdjust="spacingAndGlyphs">Open</text>
<text x="1420" y="124.5" textLength="72.5" lengthAdjust="spacingAndGlyphs">Enrollment</text>
<text x="1420" y="140.9" textLength="58.5" lengthAdjust="spacingAndGlyphs">Deadline</text>
</g>
<g font-size="13.2" font-weight="bold" font-style="italic" fill="#8b0a1e" text-anchor="end">
<text x="1420" y="90.6" textLength="32.5" lengthAdjust="spacingAndGlyphs">Final</text>
<text x="1420" y="107.6" textLength="35.5" lengthAdjust="spacingAndGlyphs">Open</text>
<text x="1420" y="124.5" textLength="72.5" lengthAdjust="spacingAndGlyphs">Enrollment</text>
<text x="1420" y="140.9" textLength="58.5" lengthAdjust="spacingAndGlyphs">Deadline</text>
</g>
<g font-family="'Liberation Serif',serif" font-weight="bold" fill="#ee8698" stroke="#ee8698" stroke-width="9" stroke-linejoin="round" filter="url(#glowS)" opacity="0.6">
<text style="font-family:'Liberation Serif',serif" transform="translate(1298.7,891.7) rotate(-78.5)" textLength="273" lengthAdjust="spacingAndGlyphs"><tspan font-size="45.8">A</tspan><tspan font-size="36.6">BANDON</tspan><tspan font-size="36.6"> </tspan><tspan font-size="45.8">H</tspan><tspan font-size="36.6">OPE</tspan></text>
<text style="font-family:'Liberation Serif',serif" transform="translate(1321.2,994.2) rotate(-78.2)" textLength="468" lengthAdjust="spacingAndGlyphs"><tspan font-size="45.8">A</tspan><tspan font-size="36.6">LL</tspan><tspan font-size="36.6"> </tspan><tspan font-size="45.8">Y</tspan><tspan font-size="36.6">E</tspan><tspan font-size="36.6"> </tspan><tspan font-size="45.8">W</tspan><tspan font-size="36.6">HO</tspan><tspan font-size="36.6"> </tspan><tspan font-size="45.8">E</tspan><tspan font-size="36.6">NTER</tspan><tspan font-size="36.6"> </tspan><tspan font-size="45.8">H</tspan><tspan font-size="36.6">ERE</tspan></text>
</g>
<g font-family="'Liberation Serif',serif" font-weight="bold" fill="#00009a">
<text style="font-family:'Liberation Serif',serif" transform="translate(1298.7,891.7) rotate(-78.5)" textLength="273" lengthAdjust="spacingAndGlyphs"><tspan font-size="45.8">A</tspan><tspan font-size="36.6">BANDON</tspan><tspan font-size="36.6"> </tspan><tspan font-size="45.8">H</tspan><tspan font-size="36.6">OPE</tspan></text>
<text style="font-family:'Liberation Serif',serif" transform="translate(1321.2,994.2) rotate(-78.2)" textLength="468" lengthAdjust="spacingAndGlyphs"><tspan font-size="45.8">A</tspan><tspan font-size="36.6">LL</tspan><tspan font-size="36.6"> </tspan><tspan font-size="45.8">Y</tspan><tspan font-size="36.6">E</tspan><tspan font-size="36.6"> </tspan><tspan font-size="45.8">W</tspan><tspan font-size="36.6">HO</tspan><tspan font-size="36.6"> </tspan><tspan font-size="45.8">E</tspan><tspan font-size="36.6">NTER</tspan><tspan font-size="36.6"> </tspan><tspan font-size="45.8">H</tspan><tspan font-size="36.6">ERE</tspan></text>
</g>
<g style="font-family:'Liberation Serif',serif" font-weight="bold" font-style="italic" font-size="32" fill="#dd6c84" stroke="#dd6c84" stroke-width="7" stroke-linejoin="round" filter="url(#glowS)" opacity="0.4">
<text style="font-family:'Liberation Serif',serif" transform="translate(1313.3,1104.0) skewX(-14)" textLength="67.7" lengthAdjust="spacingAndGlyphs">Here</text>
<text style="font-family:'Liberation Serif',serif" transform="translate(1328.8,1148.6) skewX(-14)" textLength="36.0" lengthAdjust="spacingAndGlyphs">Be</text>
<text style="font-family:'Liberation Serif',serif" transform="translate(1279.8,1190.2) skewX(-14)" textLength="134.6" lengthAdjust="spacingAndGlyphs">Monsters</text>
</g>
<g style="font-family:'Liberation Serif',serif" font-weight="bold" font-style="italic" font-size="32" fill="#0a0a9c">
<text style="font-family:'Liberation Serif',serif" transform="translate(1313.3,1104.0) skewX(-14)" textLength="67.7" lengthAdjust="spacingAndGlyphs">Here</text>
<text style="font-family:'Liberation Serif',serif" transform="translate(1328.8,1148.6) skewX(-14)" textLength="36.0" lengthAdjust="spacingAndGlyphs">Be</text>
<text style="font-family:'Liberation Serif',serif" transform="translate(1279.8,1190.2) skewX(-14)" textLength="134.6" lengthAdjust="spacingAndGlyphs">Monsters</text>
</g>
<g font-weight="bold" font-style="italic" fill="#fff" stroke="#fff" stroke-width="12" stroke-linejoin="round" filter="url(#glowW)">
<text x="107.5" y="48.8" font-size="23.7" textLength="362.0" lengthAdjust="spacingAndGlyphs">ACASignups.net / Charles Gaba</text>
<text x="107.5" y="106.2" font-size="23.7" textLength="774.5" lengthAdjust="spacingAndGlyphs">THE GRAPH: 2016 Qualified Health Plan Selections, 11/1/16 - 1/31/17</text>
<text x="107.0" y="154.5" font-size="19.8" textLength="719.5" lengthAdjust="spacingAndGlyphs">• 01/31/16 CONFIRMED QHPs: 12,235,483 Nationally (9,201,805 HC.gov only)</text>
<text x="107.0" y="178.5" font-size="19.8" textLength="468.6" lengthAdjust="spacingAndGlyphs">• 01/31/16 CONFIRMED BHPs: 727,110 in NY + MN</text>
<text x="107.0" y="216.3" font-size="30.6" textLength="595.3" lengthAdjust="spacingAndGlyphs">• QHPs + BHPS COMBINED: 12,962,593</text>
<text x="107.5" y="262.6" font-size="17.3" textLength="636.0" lengthAdjust="spacingAndGlyphs">NOTE: Final VERMONT QHP data still missing; likely to add ~1,000 to total.</text>
<text x="107.5" y="307.6" font-size="17.3" textLength="436.4" lengthAdjust="spacingAndGlyphs">IMPORTANT: Knock 10% off QHP Selection number</text>
<text x="107.5" y="329.4" font-size="17.3" textLength="568.5" lengthAdjust="spacingAndGlyphs">to get rough idea of how many enrollees actually pay 1st premium.</text>
</g>
<g font-weight="bold" font-style="italic">
<text x="107.5" y="48.8" font-size="23.7" fill="#000" textLength="362.0" lengthAdjust="spacingAndGlyphs">ACASignups.net / Charles Gaba</text>
<text x="107.5" y="106.2" font-size="23.7" fill="#000" textLength="774.5" lengthAdjust="spacingAndGlyphs">THE GRAPH: 2016 Qualified Health Plan Selections, 11/1/16 - 1/31/17</text>
<text x="107.0" y="154.5" font-size="19.8" fill="#0000ff" textLength="719.5" lengthAdjust="spacingAndGlyphs">• 01/31/16 CONFIRMED QHPs: 12,235,483 Nationally (9,201,805 HC.gov only)</text>
<text x="107.0" y="178.5" font-size="19.8" fill="#0000ff" textLength="468.6" lengthAdjust="spacingAndGlyphs">• 01/31/16 CONFIRMED BHPs: 727,110 in NY + MN</text>
<text x="107.0" y="216.3" font-size="30.6" fill="#0000ff" textLength="595.3" lengthAdjust="spacingAndGlyphs">• QHPs + BHPS COMBINED: 12,962,593</text>
<text x="107.5" y="262.6" font-size="17.3" fill="#0000ff" textLength="636.0" lengthAdjust="spacingAndGlyphs">NOTE: Final VERMONT QHP data still missing; likely to add ~1,000 to total.</text>
<text x="107.5" y="307.6" font-size="17.3" fill="#0000ff" textLength="436.4" lengthAdjust="spacingAndGlyphs">IMPORTANT: Knock 10% off QHP Selection number</text>
<text x="107.5" y="329.4" font-size="17.3" fill="#0000ff" textLength="568.5" lengthAdjust="spacingAndGlyphs">to get rough idea of how many enrollees actually pay 1st premium.</text>
</g>
</svg></body></html>
